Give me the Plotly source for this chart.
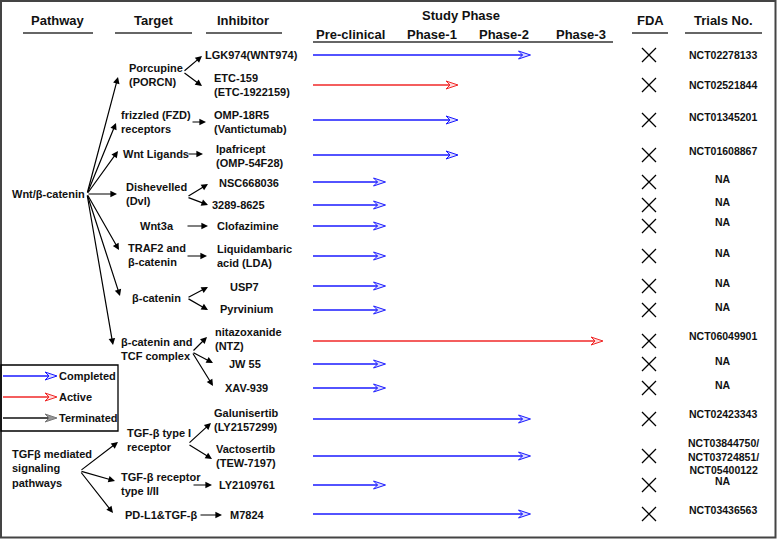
import plotly.graph_objects as go

# ---------------- data ----------------
phase_names = ["Pre-clinical", "Phase-1", "Phase-2", "Phase-3"]
inhibitors = ["LGK974(WNT974)", "ETC-159<br>(ETC-1922159)", "OMP-18R5<br>(Vantictumab)",
              "Ipafricept<br>(OMP-54F28)", "NSC668036", "3289-8625", "Clofazimine",
              "Liquidambaric<br>acid (LDA)", "USP7", "Pyrvinium", "nitazoxanide<br>(NTZ)",
              "JW 55", "XAV-939", "Galunisertib<br>(LY2157299)", "Vactosertib<br>(TEW-7197)",
              "LY2109761", "M7824"]
phase_reached = ["Phase-2", "Phase-1", "Phase-1", "Phase-1", "Pre-clinical", "Pre-clinical",
                 "Pre-clinical", "Pre-clinical", "Pre-clinical", "Pre-clinical", "Phase-3",
                 "Pre-clinical", "Pre-clinical", "Phase-2", "Phase-2", "Pre-clinical", "Phase-2"]
status = ["Completed", "Active", "Completed", "Completed", "Completed", "Completed", "Completed",
          "Completed", "Completed", "Completed", "Active", "Completed", "Completed", "Completed",
          "Completed", "Completed", "Completed"]
fda_approved = [False] * 17
trials = ["NCT02278133", "NCT02521844", "NCT01345201", "NCT01608867", "NA", "NA", "NA", "NA",
          "NA", "NA", "NCT06049901", "NA", "NA", "NCT02423343",
          "NCT03844750/<br>NCT03724851/<br>NCT05400122", "NA", "NCT03436563"]
pathways = ["Wnt/β-catenin", "TGFβ mediated<br>signaling<br>pathways"]
targets = ["Porcupine<br>(PORCN)", "frizzled (FZD)<br>receptors", "Wnt Ligands",
           "Dishevelled<br>(Dvl)", "Wnt3a", "TRAF2 and<br>β-catenin", "β-catenin",
           "β-catenin and<br>TCF complex", "TGF-β type I<br>receptor",
           "TGF-β receptor<br>type I/II", "PD-L1&TGF-β"]
legend_status = ["Completed", "Active", "Terminated"]
headers = ["Pathway", "Target", "Inhibitor", "Study Phase", "FDA", "Trials No."]

# ---------------- layout / style ----------------
W, H = 777, 539
FONT = "Liberation Sans, Arial, sans-serif"
TXT = "#111111"
status_color = {"Completed": "#1a1aff", "Active": "#f02828", "Terminated": "#111111"}
head_fill = {"Completed": "rgba(150,150,255,0.35)", "Active": "rgba(255,150,150,0.35)",
             "Terminated": "rgba(140,140,140,0.9)"}
head_line = {"Completed": "#1a1aff", "Active": "#f02828", "Terminated": "#777777"}

row_y = [55, 85, 120, 155, 182, 205, 226, 256, 286, 310, 341, 364, 388, 419, 456, 485, 514]
inhib_pos = [(203, 55), (212, 84.5), (212, 122), (214, 156), (217, 183), (210, 205), (215, 226),
             (215, 255.5), (228, 287), (218, 309), (213, 338.5), (227, 364), (223, 388),
             (212, 419.5), (214, 455.5), (217, 485), (228, 515)]
target_pos = [(127, 75), (119, 122), (121, 154), (124, 194), (138, 226), (126, 255), (130, 298),
              (119, 348.5), (125, 440), (119, 483.5), (123, 515)]
pathway_pos = [(10, 194), (10, 468.5)]
header_pos = [(58, 20), (153, 20), (243, 20), (461, 15), (650, 20), (723, 20)]
phase_label_x = [350, 432, 504, 581]
underlines = [(23, 93, 33), (115, 192, 33), (206, 282, 33), (313, 613, 42), (632, 668, 33), (685, 762, 33)]
PH_X0, PH_STEP = 313, 72.5
FDA_X, TRIAL_X = 649, 723
trial_dy = [0, 0, -3, -4, -3, -3, -4, -3, -3, -3, -5, -3, -3, -5, 0, -4, -4]

edges = [
    ((87, 194), (118, 77)), ((87, 194), (116, 123)), ((87, 194), (118, 151)),
    ((87, 194), (117, 194)), ((87, 194), (119, 250)), ((87, 194), (120, 296)),
    ((87, 194), (113, 345)),
    ((183, 72), (202, 56)), ((183, 72), (202, 86)),
    ((191, 122), (206, 122)), ((187, 154), (203, 154)),
    ((187, 197), (208, 184)), ((187, 197), (208, 205)),
    ((186, 226), (208, 226)), ((186, 256), (207, 256)),
    ((187, 298), (208, 287)), ((187, 298), (208, 310)),
    ((192, 352), (207, 337)), ((192, 352), (213, 363)), ((192, 352), (213, 386)),
    ((80, 471), (118, 442)), ((80, 471), (115, 481)), ((80, 471), (113, 513)),
    ((188, 444), (211, 423)), ((188, 444), (212, 459)),
    ((192, 485), (212, 485)), ((199, 515), (222, 515)),
]
legend_box = (1, 365, 118, 431)
legend_y = [376, 397, 418]

fig = go.Figure()
# invisible trace to instantiate the phase axis
fig.add_trace(go.Scatter(x=[0], y=[0], xaxis="x2", yaxis="y", mode="markers",
                         marker=dict(opacity=0), hoverinfo="skip", showlegend=False))

shapes = []
annotations = []


def txt(x, y, s, size=11, xanchor="left", yanchor="middle"):
    annotations.append(dict(x=x, y=y, xref="x", yref="y", text="<b>" + s + "</b>", showarrow=False,
                            xanchor=xanchor, yanchor=yanchor, align=xanchor if xanchor != "center" else "center",
                            font=dict(family=FONT, size=size, color=TXT)))


def phase_arrow(x_end, y, st, xref="x2", scale=1.0 / PH_STEP, x_start=0.0):
    hl, hn, hw = 12 * scale, 8 * scale, 4
    col = status_color[st]
    shapes.append(dict(type="line", xref=xref, yref="y", x0=x_start, x1=x_end - hn, y0=y, y1=y,
                       line=dict(color=col, width=1.5)))
    shapes.append(dict(type="path", xref=xref, yref="y",
                       path=f"M {x_end},{y} L {x_end - hl},{y - hw} L {x_end - hn},{y} L {x_end - hl},{y + hw} Z",
                       fillcolor=head_fill[st], line=dict(color=head_line[st], width=1)))


# frame
shapes.append(dict(type="rect", xref="x", yref="y", x0=1, x1=775.5, y0=1, y1=537.5,
                   line=dict(color="#444444", width=2)))

# headers
for h, (x, y) in zip(headers, header_pos):
    txt(x, y, h, size=13, xanchor="center")
for p, x in zip(phase_names, phase_label_x):
    txt(x, 34, p, size=13, xanchor="center")
for x0, x1, y in underlines:
    shapes.append(dict(type="line", xref="x", yref="y", x0=x0, x1=x1, y0=y, y1=y,
                       line=dict(color="#333333", width=1.5)))

# tree labels
for s, (x, y) in zip(pathways, pathway_pos):
    txt(x, y, s)
for s, (x, y) in zip(targets, target_pos):
    txt(x, y, s)
for s, (x, y) in zip(inhibitors, inhib_pos):
    txt(x, y, s)

# tree arrows
for (tx, ty), (hx, hy) in edges:
    annotations.append(dict(x=hx, y=hy, ax=tx, ay=ty, xref="x", yref="y", axref="x", ayref="y",
                            text="", showarrow=True, arrowhead=2, arrowsize=1.1, arrowwidth=1.2,
                            arrowcolor="#000000", standoff=0, startstandoff=0))

# study-phase arrows
for ph, st, y in zip(phase_reached, status, row_y):
    phase_arrow(phase_names.index(ph) + 1, y, st)

# FDA marks
fig.add_trace(go.Scatter(x=[FDA_X] * len(row_y), y=row_y, mode="markers",
                         marker=dict(symbol=["x-thin" if not a else "circle-open" for a in fda_approved],
                                     size=14, line=dict(width=1.3, color="#000000"), color="#000000"),
                         hoverinfo="skip", showlegend=False))

# trials
for t, y, dy in zip(trials, row_y, trial_dy):
    txt(TRIAL_X, y + dy, t, size=10.5, xanchor="center")

# legend
bx0, by0, bx1, by1 = legend_box
shapes.append(dict(type="rect", xref="x", yref="y", x0=bx0, x1=bx1, y0=by0, y1=by1,
                   line=dict(color="#000000", width=1.3)))
for st, y in zip(legend_status, legend_y):
    phase_arrow(57, y, st, xref="x", scale=1.0, x_start=3)
    txt(57, y, st, size=11)

fig.update_layout(
    width=W, height=H, autosize=False,
    margin=dict(l=0, r=0, t=0, b=0),
    paper_bgcolor="white", plot_bgcolor="white",
    xaxis=dict(range=[0, W], visible=False, fixedrange=True, domain=[0, 1]),
    xaxis2=dict(range=[(0 - PH_X0) / PH_STEP, (W - PH_X0) / PH_STEP], overlaying="x",
                visible=False, fixedrange=True),
    yaxis=dict(range=[H, 0], visible=False, fixedrange=True),
    shapes=shapes, annotations=annotations, showlegend=False,
)

fig.write_html("out.html", config={"displayModeBar": False},
               post_script="document.body.style.margin='0';document.body.style.overflow='hidden';")
